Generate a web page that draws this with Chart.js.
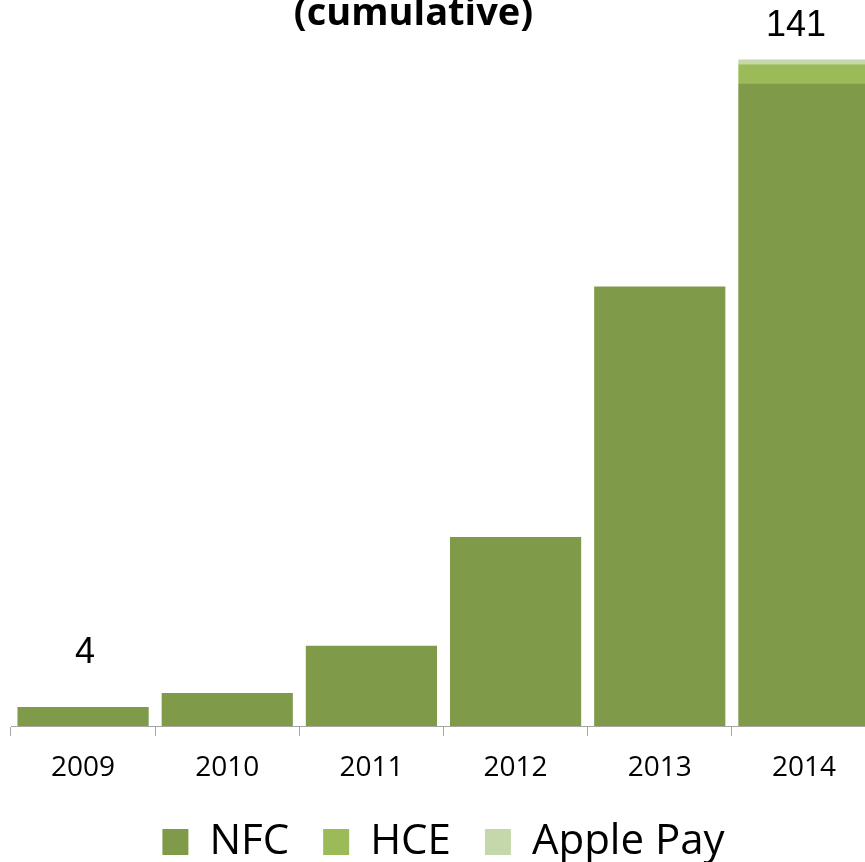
<!DOCTYPE html>
<html>
<head>
<meta charset="utf-8">
<script src="https://cdn.jsdelivr.net/npm/chart.js@4/dist/chart.umd.min.js"></script>
<style>
  html, body { margin: 0; padding: 0; overflow: hidden; background: #fff; }
  #wrap { position: absolute; left: 0; top: 0; width: 890px; height: 873px; }
</style>
</head>
<body>
<div id="wrap"><canvas id="grafico" width="890" height="873"></canvas></div>
<script>
// datos del grafico (acumulado por año)
const anios = ["2009", "2010", "2011", "2012", "2013", "2014"];
const nfc = [4, 7, 17, 40, 93, 136];
const hce = [0, 0, 0, 0, 0, 4];
const applePay = [0, 0, 0, 0, 0, 1];
const tituloTexto = "(cumulative)";
// solo se muestra el total en el primer y ultimo año
const totalesVisibles = ["2009", "2014"];

// titulo dibujado a mano (va corrido a la izquierda del centro)
const tituloPlugin = {
  id: "tituloPlugin",
  afterDraw(chart) {
    const ctx = chart.ctx;
    const area = chart.chartArea;
    ctx.save();
    ctx.font = "bold 38px 'Open Sans'";
    ctx.fillStyle = "#000";
    ctx.textAlign = "center";
    ctx.textBaseline = "alphabetic";
    ctx.fillText(tituloTexto, (area.left + area.right) / 2 - 30, 25);
    ctx.restore();
  },
};

// total arriba de la barra apilada
const totalesPlugin = {
  id: "totalesPlugin",
  afterDatasetsDraw(chart, args, opts) {
    const ctx = chart.ctx;
    const ultimo = chart.data.datasets.length - 1;
    ctx.save();
    ctx.font = "36px 'Liberation Sans'";
    ctx.fillStyle = "#000";
    ctx.textAlign = "center";
    ctx.textBaseline = "alphabetic";
    anios.forEach((anio, i) => {
      if (!totalesVisibles.includes(anio)) return;
      const total = nfc[i] + hce[i] + applePay[i];
      const barra = chart.getDatasetMeta(ultimo).data[i];
      const y = chart.scales.y.getPixelForValue(total);
      const sep = opts.separacion[i] ?? 30;
      ctx.fillText(String(total), barra.x + (opts.corrimiento[i] ?? 0), y - sep);
    });
    ctx.restore();
  },
};

const canvas = document.getElementById("grafico");

new Chart(canvas, {
  type: "bar",
  data: {
    labels: anios,
    datasets: [
      { label: "NFC", data: nfc, backgroundColor: "#7f9b4a" },
      { label: "HCE", data: hce, backgroundColor: "#9bbb59" },
      { label: "Apple Pay", data: applePay, backgroundColor: "#c5d8ab" },
    ],
  },
  options: {
    responsive: false,
    animation: false,
    layout: { padding: { top: 17, left: 11, right: 14, bottom: 0 } },
    datasets: {
      bar: { barPercentage: 0.91, categoryPercentage: 1, borderWidth: 0 },
    },
    plugins: {
      title: { display: false },
      tooltip: { enabled: false },
      legend: {
        position: "bottom",
        labels: {
          font: { family: "'Open Sans'", size: 42 },
          color: "#000",
          boxWidth: 26,
          boxHeight: 26,
          padding: 34,
        },
      },
      totalesPlugin: {
        separacion: { 0: 44, 5: 24 },
        corrimiento: { 0: 2, 5: -8 },
      },
    },
    scales: {
      x: {
        stacked: true,
        grid: {
          display: true,
          drawOnChartArea: false,
          drawTicks: true,
          tickLength: 10,
          color: "#a6a6a6",
        },
        border: { display: true, color: "#a6a6a6", width: 1 },
        ticks: {
          font: { family: "'Open Sans'", size: 28 },
          color: "#000",
          padding: 15,
        },
        afterFit(axis) {
          axis.height = 61;
        },
      },
      y: {
        stacked: true,
        display: false,
        min: 0,
        max: 150,
      },
    },
  },
  plugins: [tituloPlugin, totalesPlugin],
});
</script>
</body>
</html>
